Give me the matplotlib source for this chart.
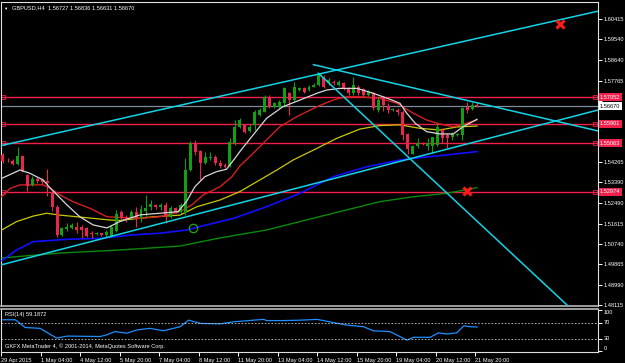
import numpy as np
import matplotlib.pyplot as plt
from matplotlib.transforms import blended_transform_factory

plt.rcParams['font.family'] = ['Liberation Sans', 'DejaVu Sans']

# GBPUSD H4 candles (bar 0 = leftmost visible bar)
opens = [1.5457, 1.5437, 1.5432, 1.5416, 1.5454, 1.5370, 1.5328, 1.5353, 1.5349, 1.5345,
         1.5293, 1.5233, 1.5113, 1.5138, 1.5143, 1.5147, 1.5147, 1.5143, 1.5123, 1.5117,
         1.5119, 1.5113, 1.5106, 1.5128, 1.5211, 1.5191, 1.5184, 1.5213, 1.5184, 1.5217,
         1.5232, 1.5242, 1.5233, 1.5242, 1.5191, 1.5227, 1.5213, 1.5206, 1.5392, 1.5509,
         1.5475, 1.5423, 1.5445, 1.5447, 1.5423, 1.5413, 1.5409, 1.5507, 1.5578, 1.5586,
         1.5561, 1.5586, 1.5628, 1.5643, 1.5707, 1.5664, 1.5664, 1.5679, 1.5722, 1.5693,
         1.5736, 1.5743, 1.5736, 1.5750, 1.5757, 1.5793, 1.5765, 1.5772, 1.5757, 1.5765,
         1.5743, 1.5722, 1.5750, 1.5739, 1.5714, 1.5722, 1.5650, 1.5702, 1.5667, 1.5650,
         1.5650, 1.5643, 1.5547, 1.5461, 1.5495, 1.5509, 1.5497, 1.5495, 1.5499, 1.5564,
         1.5543, 1.5533, 1.5543, 1.5543, 1.5664, 1.5653, 1.56727]
highs = [1.5465, 1.5444, 1.5439, 1.5492, 1.5457, 1.5375, 1.5366, 1.5362, 1.5358, 1.5396,
         1.5300, 1.5242, 1.5147, 1.5162, 1.5164, 1.5170, 1.5156, 1.5147, 1.5130, 1.5125,
         1.5123, 1.5134, 1.5156, 1.5220, 1.5220, 1.5198, 1.5220, 1.5234, 1.5242, 1.5285,
         1.5263, 1.5246, 1.5249, 1.5256, 1.5237, 1.5233, 1.5250, 1.5444, 1.5518, 1.5521,
         1.5478, 1.5471, 1.5471, 1.5457, 1.5435, 1.5421, 1.5528, 1.5607, 1.5616, 1.5590,
         1.5590, 1.5650, 1.5659, 1.5715, 1.5715, 1.5686, 1.5693, 1.5749, 1.5729, 1.5772,
         1.5750, 1.5749, 1.5757, 1.5766, 1.5808, 1.5800, 1.5786, 1.5779, 1.5779, 1.5772,
         1.5750, 1.5793, 1.5757, 1.5745, 1.5736, 1.5727, 1.5707, 1.5710, 1.5679, 1.5659,
         1.5657, 1.5650, 1.5551, 1.5499, 1.5528, 1.5512, 1.5528, 1.5535, 1.5594, 1.5571,
         1.5550, 1.5557, 1.5551, 1.5663, 1.5686, 1.5686, 1.56836]
lows = [1.5422, 1.5426, 1.5413, 1.5413, 1.5383, 1.5302, 1.5323, 1.5336, 1.5332, 1.5280,
        1.5216, 1.5106, 1.5108, 1.5130, 1.5138, 1.5121, 1.5100, 1.5106, 1.5100, 1.5113,
        1.5108, 1.5104, 1.5104, 1.5125, 1.5177, 1.5168, 1.5177, 1.5148, 1.5170, 1.5191,
        1.5220, 1.5224, 1.5220, 1.5163, 1.5186, 1.5207, 1.5207, 1.5198, 1.5388, 1.5457,
        1.5349, 1.5418, 1.5435, 1.5413, 1.5399, 1.5399, 1.5405, 1.5500, 1.5573, 1.5551,
        1.5555, 1.5564, 1.5624, 1.5641, 1.5659, 1.5659, 1.5659, 1.5664, 1.5628, 1.5689,
        1.5732, 1.5723, 1.5732, 1.5749, 1.5753, 1.5745, 1.5757, 1.5757, 1.5753, 1.5736,
        1.5714, 1.5714, 1.5714, 1.5706, 1.5710, 1.5650, 1.5643, 1.5646, 1.5636, 1.5646,
        1.5628, 1.5521, 1.5461, 1.5459, 1.5485, 1.5499, 1.5478, 1.5466, 1.5497, 1.5507,
        1.5485, 1.5521, 1.5538, 1.5521, 1.5636, 1.5650, 1.56631]
closes = [1.5431, 1.5433, 1.5416, 1.5452, 1.5388, 1.5323, 1.5353, 1.5343, 1.5340, 1.5336,
          1.5233, 1.5113, 1.5143, 1.5149, 1.5156, 1.5136, 1.5134, 1.5110, 1.5117, 1.5121,
          1.5113, 1.5125, 1.5149, 1.5201, 1.5186, 1.5177, 1.5213, 1.5184, 1.5223, 1.5230,
          1.5245, 1.5232, 1.5242, 1.5191, 1.5227, 1.5213, 1.5242, 1.5392, 1.5508, 1.5471,
          1.5423, 1.5447, 1.5449, 1.5421, 1.5409, 1.5404, 1.5514, 1.5578, 1.5607, 1.5557,
          1.5578, 1.5643, 1.5650, 1.5707, 1.5664, 1.5679, 1.5686, 1.5743, 1.5693, 1.5750,
          1.5743, 1.5729, 1.5750, 1.5757, 1.5800, 1.5750, 1.5779, 1.5765, 1.5772, 1.5743,
          1.5722, 1.5757, 1.5722, 1.5714, 1.5726, 1.5657, 1.5693, 1.5672, 1.5650, 1.5654,
          1.5641, 1.5543, 1.5481, 1.5495, 1.5509, 1.5504, 1.5508, 1.5534, 1.5577, 1.5528,
          1.5528, 1.5550, 1.5547, 1.5657, 1.5650, 1.5672, 1.56670]

# moving averages (bar position, price) as they appear on the chart
ma_white_x = [-0.2, 3.5, 5.5, 8.2, 9.6, 11, 13, 15.6, 18.3, 21.1, 23.7, 27.8, 31.8, 35.5, 37.2,
              38.9, 40.9, 43.3, 45.3, 47, 48, 50.7, 53.4, 56.7, 60.2, 63.6, 65.6, 68.3, 71.7,
              75, 78.4, 80.4, 81.8, 83.5, 85.8, 88.5, 91.2, 93.2, 96]
ma_white_y = [1.5356, 1.5392, 1.5378, 1.5349, 1.5315, 1.5285, 1.5242, 1.5191, 1.5156, 1.5143,
              1.5170, 1.5199, 1.5206, 1.5213, 1.5256, 1.5320, 1.5363, 1.5385, 1.5395, 1.5442,
              1.5471, 1.5543, 1.5614, 1.5664, 1.5693, 1.5722, 1.5736, 1.5743, 1.5743, 1.5722,
              1.5696, 1.5679, 1.5636, 1.5593, 1.5557, 1.5547, 1.5547, 1.5578, 1.5610]
ma_red_x = [-0.2, 1.5, 3.5, 8.2, 9.6, 11.6, 14.2, 17.7, 21.1, 23.7, 27.8, 31.8, 35.9, 38.3, 40.6,
            44, 46.4, 48, 50.7, 53.4, 56.1, 59.5, 63.6, 66.9, 69.6, 72.3, 76.3, 79.8, 83.1,
            85.8, 88.5, 91.2, 93.9, 96]
ma_red_y = [1.5277, 1.5313, 1.5328, 1.5328, 1.5313, 1.5285, 1.5256, 1.5227, 1.5191, 1.5188,
            1.5184, 1.5191, 1.5213, 1.5242, 1.5285, 1.5320, 1.5363, 1.5409, 1.5464, 1.5521,
            1.5578, 1.5621, 1.5664, 1.5693, 1.5707, 1.5707, 1.5700, 1.5679, 1.5636, 1.5607,
            1.5590, 1.5578, 1.5593, 1.5607]
ma_yellow_x = [-0.2, 2.8, 6.2, 8.9, 11.6, 15, 18.3, 21.7, 23.7, 30.5, 35.9, 39.3, 44, 48, 55.5,
               58.8, 63.6, 67.6, 72.3, 76.3, 80.4, 84.5, 88.5, 91.9, 96]
ma_yellow_y = [1.5134, 1.5170, 1.5194, 1.5206, 1.5198, 1.5191, 1.5184, 1.5177, 1.5175, 1.5191,
               1.5198, 1.5234, 1.5263, 1.5299, 1.5392, 1.5435, 1.5485, 1.5528, 1.5568, 1.5583,
               1.5586, 1.5571, 1.5564, 1.5577, 1.5581]
ma_blue_x = [-0.1, 2.8, 6.2, 13, 19.7, 26.4, 31.8, 37.2, 41.3, 46.7, 53.4, 60.2, 66.9, 73.7,
             80.4, 83.1, 89.9, 96]
ma_blue_y = [1.5003, 1.5048, 1.5084, 1.5094, 1.5098, 1.5113, 1.5120, 1.5134, 1.5156, 1.5184,
             1.5234, 1.5292, 1.5363, 1.5406, 1.5435, 1.5442, 1.5457, 1.5471]
ma_green_x = [-0.1, 11.6, 23.7, 35.9, 44, 53.4, 66.9, 76.4, 83.1, 89.9, 96]
ma_green_y = [1.5014, 1.5035, 1.5048, 1.5065, 1.5100, 1.5134, 1.5206, 1.5256, 1.5277, 1.5292,
              1.5316]

# RSI(14) samples
rsi_x = [0, 2.5, 4.5, 7.5, 10.9, 13, 19.7, 21, 22.7, 25.1, 27.1, 29.8, 32.5, 35.9, 37.6, 40,
         44, 46.7, 52.8, 53.4, 56.8, 60.2, 63.6, 67, 69.6, 73, 75, 78.4, 81.8, 83.1, 86.5,
         88.2, 89.9, 91.9, 93.3, 94.6, 96]
rsi_y = [77, 77, 58, 56, 32, 37, 36, 40, 48, 44, 52, 56, 50, 60, 76, 68, 67, 72, 78, 75, 75,
         76, 78, 70, 64, 60, 50, 48, 27, 34, 34, 45, 42, 45, 62, 60, 59.1872]

# horizontal levels and trend lines
red_levels = [1.57052, 1.55901, 1.55063, 1.52974]
bid = 1.56670
trend_lines = [((-0.3, 1.5497), (120.5, 1.6075)),
               ((-0.3, 1.4984), (120.5, 1.5650)),
               ((62.9, 1.5845), (120.5, 1.5560)),
               ((63.9, 1.5808), (114.2, 1.4812))]
cross_marks = [(112.8, 1.6020), (94.0, 1.5302)]
thumb_mark = (38.5, 1.5143)

price_ticks = [1.60415, 1.59540, 1.58640, 1.57765, 1.56890, 1.56015, 1.55140, 1.54265,
               1.53390, 1.52490, 1.51615, 1.50740, 1.49865, 1.48990, 1.48115]
hidden_ticks = [1.56890, 1.56015, 1.55140]   # covered by the level boxes
time_ticks = [-0.4, 7.6, 15.6, 23.6, 31.6, 39.6, 47.6, 55.6, 63.6, 71.6, 79.6, 87.6, 95.6]
time_labels = ['29 Apr 2015', '1 May 04:00', '4 May 12:00', '5 May 20:00', '7 May 04:00',
               '8 May 12:00', '11 May 20:00', '13 May 04:00', '14 May 12:00', '15 May 20:00',
               '19 May 04:00', '20 May 12:00', '21 May 20:00']

W, H = 625, 363
fs = 4.1
bull, bear = '#12a012', '#e8264e'
lvl_red = '#f0204a'

fig = plt.figure(figsize=(W / 100, H / 100), dpi=100, facecolor='black')
ax = fig.add_axes([1 / W, 1 - 306 / H, 597 / W, 304 / H], facecolor='black')
rs = fig.add_axes([1 / W, 1 - 352 / H, 597 / W, 43 / H], facecolor='black')

xlim = (-0.34, 120.5)

# price panel
o, h, l, c = map(np.array, (opens, highs, lows, closes))
idx = np.arange(len(o))
col = np.where(c >= o, bull, bear)
ax.vlines(idx, l, h, colors=col, lw=0.8, zorder=4)
body = np.maximum(np.abs(c - o), 0.00012)
ax.bar(idx, body, bottom=np.minimum(o, c), width=0.6, color=col, lw=0, zorder=5)

ax.plot(ma_green_x, ma_green_y, color='#0a8a0a', lw=1.0, zorder=3)
ax.plot(ma_blue_x, ma_blue_y, color='#1010ff', lw=1.2, zorder=3)
ax.plot(ma_yellow_x, ma_yellow_y, color='#c8c800', lw=0.9, zorder=3)
ax.plot(ma_red_x, ma_red_y, color='#d42020', lw=1.0, zorder=3)
ax.plot(ma_white_x, ma_white_y, color='#d8d8d8', lw=0.9, zorder=6)

for (x0, y0), (x1, y1) in trend_lines:
    ax.plot([x0, x1], [y0, y1], color='#12d4e6', lw=1.1, zorder=7)

for lv in red_levels:
    ax.axhline(lv, color=lvl_red, lw=1.0, zorder=2)
    ax.plot([0.0, 119.9], [lv, lv], ls='none', marker='s', ms=2.2, mfc='none',
            mec=lvl_red, mew=0.6, zorder=2)
ax.axhline(bid, color='#7d8c9c', lw=0.9, zorder=2)

for x, y in cross_marks:
    ax.plot(x, y, marker='x', ms=6, mew=2.2, color='#ff1a1a', zorder=8)
ax.plot(*thumb_mark, marker='o', ms=6, mfc='none', mec='#18a818', mew=0.9, zorder=8)

ax.set_xlim(xlim)
ax.set_ylim(1.48072, 1.61144)
ax.yaxis.tick_right()
ax.set_yticks(price_ticks)
ax.set_yticklabels(['' if t in hidden_ticks else '%.5f' % t for t in price_ticks])
ax.tick_params(axis='y', colors='white', labelsize=fs, length=3, width=0.7, pad=1.2)
ax.set_xticks([])
for s in ('left', 'right', 'top'):
    ax.spines[s].set_color('#e0e0e0')
    ax.spines[s].set_linewidth(0.8)
ax.spines['bottom'].set_color('#b8b8b8')
ax.spines['bottom'].set_linewidth(1.2)

ytr = blended_transform_factory(ax.transAxes, ax.transData)
for lv in red_levels:
    ax.text(1.0035, lv, '%.5f' % lv, transform=ytr, fontsize=fs, color='white', va='center',
            ha='left', clip_on=False, zorder=20,
            bbox=dict(boxstyle='square,pad=0.25', fc=lvl_red, ec='none'))
ax.text(1.0035, bid, '%.5f' % bid, transform=ytr, fontsize=fs, color='black', va='center',
        ha='left', clip_on=False, zorder=20,
        bbox=dict(boxstyle='square,pad=0.25', fc='white', ec='none'))

ax.text(0.004, 0.985, '\u25bc', transform=ax.transAxes, fontsize=3.2, color='white',
        va='top', ha='left')
ax.text(0.019, 0.988, 'GBPUSD,H4  1.56727 1.56836 1.56631 1.56670', transform=ax.transAxes,
        fontsize=fs, color='white', va='top', ha='left')

# RSI panel
rs.plot(rsi_x, rsi_y, color='#1e8fff', lw=0.9)
for lv in (70, 30):
    rs.axhline(lv, color='#c8c8c8', lw=0.6, ls=(0, (2, 2)))
rs.set_xlim(xlim)
rs.set_ylim(-2, 103.4)
rs.yaxis.tick_right()
rs.set_yticks([100, 70, 30, 0])
rs.set_yticklabels(['100', '70', '30', '0'])
rs.tick_params(axis='y', colors='white', labelsize=fs, length=3, width=0.7, pad=1.2)
for lab, va in zip(rs.get_yticklabels(), ['top', 'center', 'center', 'bottom']):
    lab.set_va(va)
rs.set_xticks(time_ticks)
rs.set_xticklabels(time_labels, ha='left')
rs.tick_params(axis='x', colors='white', labelsize=fs, length=3, width=0.7, pad=1.5)
for s in ('left', 'right', 'bottom'):
    rs.spines[s].set_color('#e0e0e0')
    rs.spines[s].set_linewidth(0.8)
rs.spines['top'].set_color('#b8b8b8')
rs.spines['top'].set_linewidth(1.2)
rs.text(0.006, 0.93, 'RSI(14) 59.1872', transform=rs.transAxes, fontsize=fs, color='white',
        va='top', ha='left')
rs.text(0.006, 0.06, 'GKFX MetaTrader 4, \u00a9 2001-2014, MetaQuotes Software Corp.',
        transform=rs.transAxes, fontsize=fs, color='white', va='bottom', ha='left')

fig.savefig('out.png', dpi=100, facecolor='black')
